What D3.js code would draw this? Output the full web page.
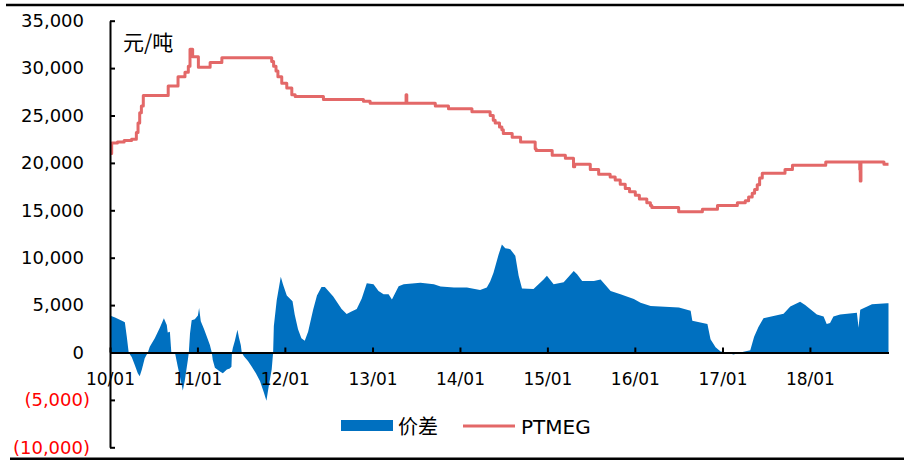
<!DOCTYPE html>
<html>
<head>
<meta charset="utf-8">
<script src="https://cdn.jsdelivr.net/npm/d3@7"></script>
<style>
  body { margin: 0; background: #fff; }
  svg { display: block; }
  .tick text { font-family: "DejaVu Sans", sans-serif; }
</style>
</head>
<body>
<div id="chart"></div>
<script>
// PTMEG price, step changes (date, 元/吨)
var ptmegDates = ["2010-01-01","2010-01-08","2010-02-01","2010-03-01","2010-04-01","2010-04-21","2010-04-28","2010-05-05","2010-05-12","2010-05-20",
    "2010-09-01","2010-10-12","2010-11-10","2010-11-24","2010-12-01","2010-12-12","2011-01-05","2011-02-23","2011-04-13","2011-11-07",
    "2011-11-15","2011-11-25","2011-12-03","2011-12-19","2012-01-09","2012-01-30","2012-02-13","2012-06-10","2012-11-24","2012-12-22",
    "2013-05-21","2013-05-24","2013-09-20","2013-11-14","2014-02-20","2014-05-07","2014-05-20","2014-05-28","2014-06-15","2014-06-25",
    "2014-07-01","2014-08-07","2014-09-11","2014-11-11","2014-11-15","2015-01-21","2015-03-17","2015-04-20","2015-04-25","2015-06-29",
    "2015-08-03","2015-09-20","2015-10-11","2015-11-01","2015-11-22","2015-12-10","2016-01-03","2016-01-20","2016-02-20","2016-03-06",
    "2016-03-12","2016-07-02","2016-10-09","2016-12-11","2017-03-04","2017-04-06","2017-04-20","2017-05-05","2017-05-15","2017-05-26",
    "2017-06-05","2017-06-16","2017-09-19","2017-10-20","2018-03-08","2018-07-28","2018-07-30","2018-08-02","2018-11-06","2018-11-25"];
var ptmegValues = [21000,22100,22200,22350,22500,23200,24200,25300,26000,27100,
    28100,29100,29550,30200,32000,31200,30100,30600,31100,30700,
    30200,29700,29100,28400,27900,27200,27000,26700,26500,26300,
    27200,26300,26000,25700,25400,25000,24500,24200,23800,23500,
    23100,22700,22200,21500,21300,20800,20500,19600,19850,19300,
    18800,18500,18200,17750,17300,16950,16600,16200,15800,15500,
    15300,14850,15100,15500,15800,16000,16400,16800,17200,17700,
    18400,18900,19300,19750,20100,19300,18100,20100,19850,19850];

// 价差 (spread)
var spreadDates = ["2010-01-01","2010-01-22","2010-02-24","2010-03-04","2010-03-12","2010-03-20","2010-04-02","2010-04-14","2010-04-27","2010-05-05",
    "2010-05-14","2010-05-26","2010-06-08","2010-06-16","2010-07-07","2010-07-28","2010-08-14","2010-08-26","2010-08-30","2010-09-08",
    "2010-09-14","2010-09-29","2010-10-11","2010-10-24","2010-11-01","2010-11-09","2010-11-22","2010-11-26","2010-12-01","2010-12-08",
    "2010-12-21","2011-01-03","2011-01-08","2011-01-15","2011-01-28","2011-02-09","2011-02-22","2011-03-02","2011-03-06","2011-03-15",
    "2011-04-05","2011-04-17","2011-05-04","2011-05-16","2011-05-23","2011-05-25","2011-05-29","2011-06-06","2011-06-17","2011-06-23",
    "2011-07-01","2011-07-05","2011-07-14","2011-07-31","2011-08-16","2011-09-02","2011-09-19","2011-10-05","2011-10-16","2011-10-26",
    "2011-11-07","2011-11-13","2011-11-16","2011-11-28","2011-12-15","2011-12-24","2012-01-09","2012-02-02","2012-02-11","2012-02-25",
    "2012-03-10","2012-03-24","2012-04-07","2012-04-28","2012-05-14","2012-06-02","2012-06-16","2012-07-21","2012-08-25","2012-09-15",
    "2012-10-03","2012-10-27","2012-11-17","2012-12-08","2013-01-05","2013-01-26","2013-02-16","2013-03-09","2013-03-23","2013-04-20",
    "2013-05-11","2013-07-20","2013-09-14","2013-10-12","2013-12-07","2014-01-30","2014-03-26","2014-04-23","2014-05-07","2014-05-21",
    "2014-06-11","2014-06-25","2014-07-09","2014-07-30","2014-08-20","2014-09-03","2014-09-17","2014-11-04","2014-12-16","2014-12-30",
    "2015-01-27","2015-03-10","2015-04-21","2015-05-05","2015-05-26","2015-07-14","2015-08-11","2015-09-22","2015-11-02","2015-12-28",
    "2016-01-25","2016-03-07","2016-07-03","2016-08-21","2016-08-28","2016-10-30","2016-11-12","2016-12-03","2016-12-24","2017-01-20",
    "2017-02-16","2017-03-16","2017-04-27","2017-05-13","2017-05-31","2017-06-21","2017-09-13","2017-10-11","2017-11-21","2017-12-12",
    "2018-01-30","2018-02-27","2018-03-12","2018-03-26","2018-04-09","2018-05-07","2018-07-16","2018-07-23","2018-07-30","2018-09-17",
    "2018-11-19","2018-11-25"];
var spreadValues = [3900,3700,3300,3200,1700,0,-500,-1300,-2200,-2500,
    -1800,-600,0,600,1500,2600,3600,2900,2100,2200,
    0,0,-1500,-3000,-4000,-3000,-800,0,2000,3400,
    3500,3900,4700,3300,2500,1700,800,0,-800,-1600,
    -2000,-2200,-1800,-1700,-1500,0,500,1200,2400,1600,
    800,0,-400,-900,-1500,-2200,-3000,-4200,-5100,-3500,
    -1800,0,2800,5500,8000,7200,6000,5400,4000,2450,
    1500,1250,2200,4500,6000,6900,6900,5900,4600,4050,
    4300,4600,5700,7300,7200,6500,6150,6150,5600,7000,
    7200,7350,7200,6950,6850,6850,6600,6850,7500,8400,
    10300,11400,11000,10900,10200,8100,6750,6700,7700,8100,
    7200,7400,8600,8250,7550,7550,7700,6500,6150,5650,
    5250,4900,4750,4400,3350,3000,1400,550,100,0,
    -200,0,250,1650,2700,3600,4100,4850,5350,5000,
    4000,3800,3000,3100,3800,4000,4200,2600,4500,5100,
    5200,5200];

var yTicks = [-10000, -5000, 0, 5000, 10000, 15000, 20000, 25000, 30000, 35000];

var width = 904, height = 460;
var parseDate = d3.timeParse("%Y-%m-%d");

var ptmeg = ptmegDates.map(function (d, i) { return { date: parseDate(d), value: ptmegValues[i] }; });
var spread = spreadDates.map(function (d, i) { return { date: parseDate(d), value: spreadValues[i] }; });

var svg = d3.select("#chart").append("svg")
    .attr("width", width)
    .attr("height", height);

var x = d3.scaleTime()
    .domain([parseDate("2010-01-01"), parseDate("2018-11-25")])
    .range([110, 888.5]);

var y = d3.scaleLinear()
    .domain([-10000, 35000])
    .range([447.3, 20.7]);

// frame lines top and bottom
svg.append("line").attr("x1", 6).attr("x2", width).attr("y1", 5).attr("y2", 5)
    .attr("stroke", "#000").attr("stroke-width", 2.5);
svg.append("line").attr("x1", 10).attr("x2", width).attr("y1", 459).attr("y2", 459)
    .attr("stroke", "#000").attr("stroke-width", 3);

// spread area
var area = d3.area()
    .x(function (d) { return x(d.date); })
    .y0(y(0))
    .y1(function (d) { return y(d.value); });

svg.append("path")
    .datum(spread)
    .attr("d", area)
    .attr("fill", "#0070C0");

// PTMEG line
var line = d3.line()
    .x(function (d) { return x(d.date); })
    .y(function (d) { return y(d.value); })
    .curve(d3.curveStepAfter);

svg.append("path")
    .datum(ptmeg)
    .attr("d", line)
    .attr("fill", "none")
    .attr("stroke", "#E36868")
    .attr("stroke-width", 3)
    .attr("stroke-linejoin", "round");

// y axis
var fmt = d3.format(",");
var yAxis = d3.axisLeft(y)
    .tickValues(yTicks)
    .tickSize(-5)
    .tickSizeOuter(0)
    .tickFormat(function (v) { return v < 0 ? "(" + fmt(-v) + ")" : fmt(v); });

var gY = svg.append("g")
    .attr("transform", "translate(110,0)")
    .call(yAxis);
gY.select(".domain").attr("stroke-width", 2);
gY.selectAll(".tick line").attr("stroke-width", 2);
gY.selectAll(".tick text")
    .attr("font-size", 18)
    .attr("x", function (v) { return v < 0 ? -20 : -26; })
    .style("fill", function (v) { return v < 0 ? "#FF0000" : "#000"; });

// x axis
var xAxis = d3.axisBottom(x)
    .ticks(d3.timeYear.every(1))
    .tickSize(-5)
    .tickSizeOuter(0)
    .tickPadding(20)
    .tickFormat(d3.timeFormat("%y/%m"));

var gX = svg.append("g")
    .attr("transform", "translate(0," + y(0) + ")")
    .call(xAxis);
gX.select(".domain").attr("stroke-width", 2);
gX.selectAll(".tick line").attr("stroke-width", 2);
gX.selectAll(".tick text").attr("font-size", 17).style("fill", "#000");

// unit label
svg.append("text")
    .attr("x", 123)
    .attr("y", 50)
    .attr("font-family", "'Noto Sans CJK SC', sans-serif")
    .attr("font-size", 21)
    .text("元/吨");

// legend
var legend = svg.append("g");
legend.append("rect")
    .attr("x", 341).attr("y", 420).attr("width", 52).attr("height", 11)
    .attr("fill", "#0070C0");
legend.append("text")
    .attr("x", 398).attr("y", 434)
    .attr("font-family", "'Noto Sans CJK SC', sans-serif")
    .attr("font-size", 20)
    .text("价差");
legend.append("line")
    .attr("x1", 463).attr("x2", 515).attr("y1", 426).attr("y2", 426)
    .attr("stroke", "#E36868").attr("stroke-width", 3);
legend.append("text")
    .attr("x", 521).attr("y", 434)
    .attr("font-family", "'DejaVu Sans', sans-serif")
    .attr("font-size", 20)
    .text("PTMEG");
</script>
</body>
</html>
